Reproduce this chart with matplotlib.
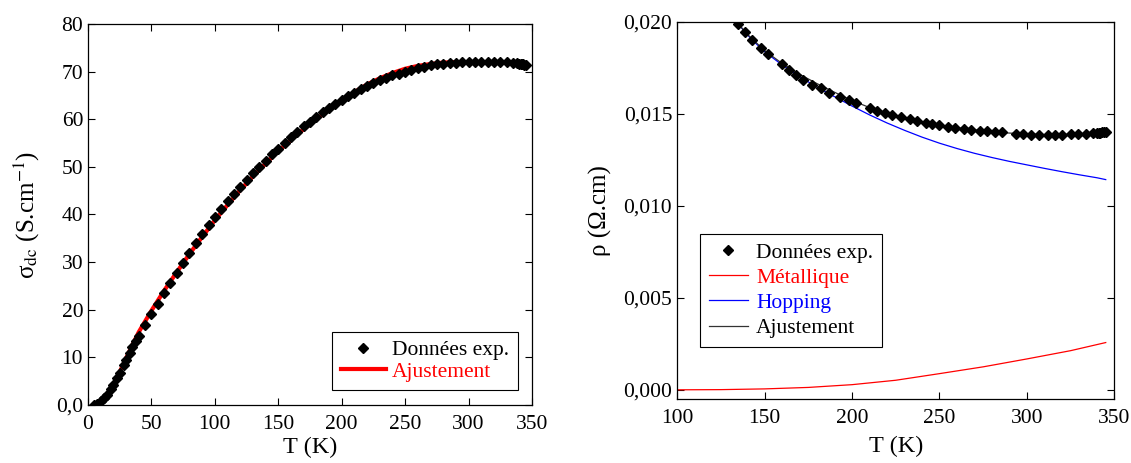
import numpy as np
import matplotlib.pyplot as plt
from matplotlib.ticker import FixedLocator, FixedFormatter

plt.rcParams['font.family'] = ['Liberation Serif', 'DejaVu Serif']
plt.rcParams['mathtext.fontset'] = 'stix'

# ---- gauche : conductivité ----
T_sig = [5, 7, 10, 13, 15, 18, 20, 23, 25, 28, 30, 33, 35, 38, 40, 45, 50, 55, 60, 65,
         70, 75, 80, 85, 90, 95, 100, 105, 110, 115, 120, 125, 130, 135, 140, 145,
         150, 155, 160, 165, 170, 175, 180, 185, 190, 195, 200, 205, 210, 215, 220,
         225, 230, 235, 240, 245, 250, 255, 260, 265, 270, 275, 280, 285, 290, 295,
         300, 305, 310, 315, 320, 325, 330, 335, 338, 340, 341, 342, 343, 344, 345]
sig_exp = [0.0, 0.3, 0.8, 1.5, 2.2, 3.3, 4.2, 5.6, 6.7, 8.3, 9.5, 11.0, 12.1, 13.5, 14.5,
           16.8, 19.0, 21.3, 23.5, 25.6, 27.8, 29.9, 32.0, 34.0, 35.9, 37.7, 39.4,
           41.2, 42.8, 44.3, 45.8, 47.3, 48.7, 50.0, 51.3, 52.6, 53.8, 55.1, 56.3,
           57.4, 58.5, 59.5, 60.5, 61.5, 62.4, 63.3, 64.1, 64.9, 65.6, 66.3, 67.0,
           67.6, 68.2, 68.7, 69.2, 69.6, 70.0, 70.4, 70.7, 71.0, 71.3, 71.5, 71.7,
           71.8, 71.9, 72.0, 72.0, 72.1, 72.1, 72.1, 72.1, 72.0, 72.0, 71.9, 71.8,
           71.7, 71.6, 71.5, 71.5, 71.4, 71.4]
T_fit_sig = [5, 10, 15, 20, 25, 30, 35, 40, 50, 60, 70, 80, 90, 100, 110, 120, 130, 140,
             150, 160, 170, 180, 190, 200, 210, 220, 230, 240, 250, 260, 270, 280,
             290, 300, 310, 320, 330, 340, 345]
sig_fit = [0.0, 0.7, 2.1, 4.2, 6.9, 9.8, 12.6, 15.3, 19.8, 24.0, 27.9, 31.7, 35.3, 38.8,
           42.0, 45.1, 48.0, 50.7, 53.3, 55.7, 57.9, 60.0, 62.0, 63.9, 65.7, 67.3,
           68.6, 69.7, 70.6, 71.2, 71.6, 71.9, 72.0, 72.0, 72.0, 71.9, 71.8, 71.6, 71.5]

# ---- droite : résistivité ----
T_rho = [135, 139, 143, 148, 152, 160, 164, 168, 172, 177, 182, 187, 193, 198, 202,
         210, 214, 219, 223, 228, 233, 237, 242, 246, 250, 255, 259, 264, 268, 273,
         277, 282, 286, 294, 298, 302.5, 307, 312, 316, 320, 325, 329, 334, 338,
         340, 341, 342, 343, 344, 345]
rho_exp = [0.01987, 0.01944, 0.01900, 0.01857, 0.01824, 0.01770, 0.01737, 0.01712,
           0.01685, 0.01658, 0.01640, 0.01612, 0.01590, 0.01576, 0.01558, 0.01531,
           0.01518, 0.01507, 0.01495, 0.01482, 0.01471, 0.01462, 0.01453, 0.01446,
           0.01438, 0.01431, 0.01426, 0.01418, 0.01413, 0.01409, 0.01406, 0.01402,
           0.01400, 0.01391, 0.01390, 0.01386, 0.01386, 0.01386, 0.01386, 0.01388,
           0.01390, 0.01391, 0.01393, 0.01395, 0.01397, 0.01398, 0.01399, 0.01400,
           0.01400, 0.01401]
T_hop = [135, 140, 145, 150, 160, 170, 180, 190, 200, 210, 220, 230, 240, 250, 260,
         270, 280, 290, 300, 310, 320, 330, 340, 345]
rho_hop = [0.01990, 0.01932, 0.01884, 0.01839, 0.01767, 0.01703, 0.01646, 0.01594,
           0.01543, 0.01495, 0.01451, 0.01411, 0.01374, 0.01341, 0.01312, 0.01286,
           0.01263, 0.01242, 0.01223, 0.01204, 0.01186, 0.01169, 0.01153, 0.01143]
T_met = [100, 125, 150, 175, 200, 225, 250, 275, 300, 325, 345]
rho_met = [0.0, 0.00001, 0.00005, 0.00013, 0.00028, 0.00052, 0.00088, 0.00125,
           0.00168, 0.00213, 0.00257]
T_aj = [135, 140, 150, 160, 170, 180, 190, 200, 210, 220, 230, 240, 250, 260, 270,
        280, 290, 300, 310, 320, 330, 340, 345]
rho_aj = [0.01990, 0.01935, 0.01845, 0.01775, 0.01716, 0.01665, 0.01618, 0.01573,
          0.01535, 0.01504, 0.01478, 0.01457, 0.01440, 0.01425, 0.01413, 0.01403,
          0.01396, 0.01391, 0.01388, 0.01388, 0.01391, 0.01396, 0.01400]

fig = plt.figure(figsize=(11.31, 4.63), dpi=100)
ax1 = fig.add_axes([0.0778, 0.1253, 0.3926, 0.8229])
ax2 = fig.add_axes([0.5986, 0.1382, 0.3868, 0.8143])

# sous-figure gauche
ax1.plot(T_fit_sig, sig_fit, '-', color='red', lw=3, label='Ajustement', zorder=2)
ax1.plot(T_sig, sig_exp, 'D', color='black', ms=5, label='Données exp.', zorder=3)
ax1.set_xlim(0, 350)
ax1.set_ylim(0, 80)
ax1.xaxis.set_major_locator(FixedLocator([0, 50, 100, 150, 200, 250, 300, 350]))
ax1.yaxis.set_major_locator(FixedLocator([0, 10, 20, 30, 40, 50, 60, 70, 80]))
ax1.yaxis.set_major_formatter(FixedFormatter(['0,0', '10', '20', '30', '40', '50', '60', '70', '80']))
ax1.set_xlabel('T (K)', fontsize=17.5, labelpad=2)
ax1.set_ylabel('σ$_{\\rm dc}$ (S.cm$^{-1}$)', fontsize=18, labelpad=10)
h, l = ax1.get_legend_handles_labels()
leg1 = ax1.legend([h[1], h[0]], [l[1], l[0]], loc='lower right',
                  bbox_to_anchor=(0.968, 0.039), borderaxespad=0, fontsize=15.5,
                  fancybox=False, edgecolor='black', framealpha=1,
                  handlelength=2.1, handletextpad=0.3,
                  labelspacing=0.05, borderpad=0.4)
leg1.get_frame().set_linewidth(0.8)
leg1.get_texts()[1].set_color('red')

# sous-figure droite
ax2.plot(T_met, rho_met, '-', color='red', lw=0.9, label='Métallique')
ax2.plot(T_hop, rho_hop, '-', color='blue', lw=0.9, label='Hopping')
ax2.plot(T_aj, rho_aj, '-', color='#333333', lw=0.9, label='Ajustement')
ax2.plot(T_rho, rho_exp, 'D', color='black', ms=5, label='Données exp.', zorder=3)
ax2.set_xlim(100, 350)
ax2.set_ylim(-0.0005, 0.020)
ax2.xaxis.set_major_locator(FixedLocator([100, 150, 200, 250, 300, 350]))
ax2.yaxis.set_major_locator(FixedLocator([0, 0.005, 0.010, 0.015, 0.020]))
ax2.yaxis.set_major_formatter(FixedFormatter(['0,000', '0,005', '0,010', '0,015', '0,020']))
ax2.set_xlabel('T (K)', fontsize=17.5, labelpad=6)
ax2.set_ylabel('ρ (Ω.cm)', fontsize=18, labelpad=8)
h, l = ax2.get_legend_handles_labels()
leg2 = ax2.legend([h[3], h[0], h[1], h[2]], [l[3], l[0], l[1], l[2]],
                  loc='upper left', bbox_to_anchor=(0.053, 0.438), borderaxespad=0,
                  fontsize=15.5, fancybox=False, edgecolor='black', framealpha=1,
                  handlelength=1.8, handletextpad=0.4, labelspacing=0.24,
                  borderpad=0.4)
leg2.get_frame().set_linewidth(0.8)
leg2.get_texts()[1].set_color('red')
leg2.get_texts()[2].set_color('blue')

for ax in (ax1, ax2):
    ax.tick_params(direction='in', top=True, right=True, length=5, width=0.8,
                   labelsize=15.5)
    ax.tick_params(axis='x', pad=7)
    for s in ax.spines.values():
        s.set_linewidth(0.9)

plt.savefig('out.png', dpi=100)
